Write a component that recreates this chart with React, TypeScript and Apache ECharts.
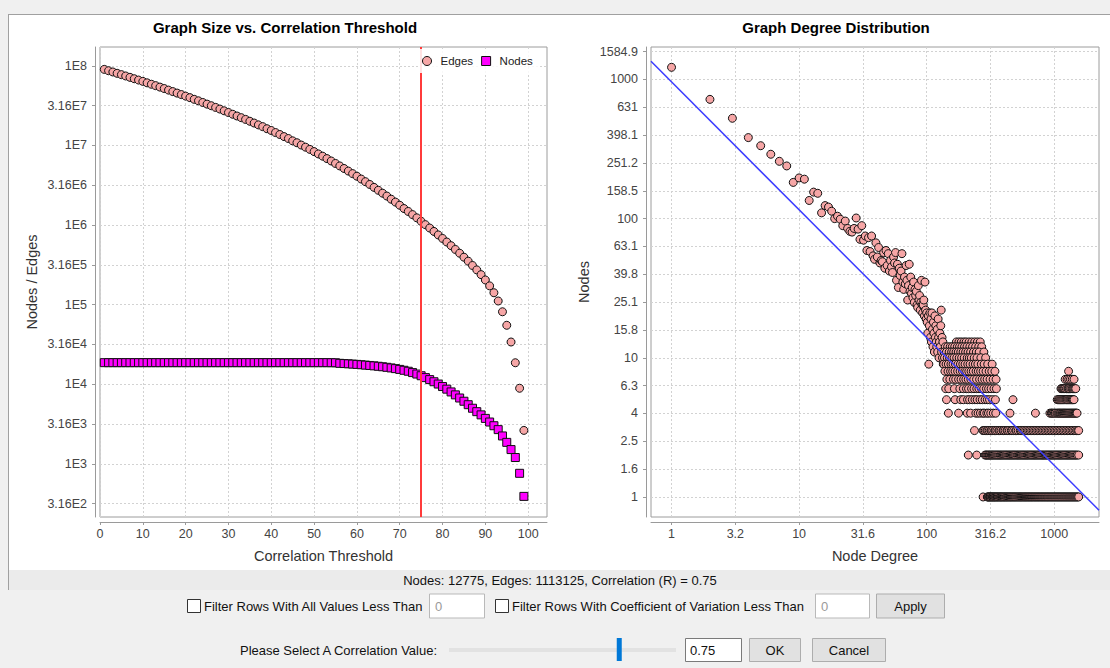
import React, { useEffect, useRef } from "react";
import * as echarts from "echarts";

const FONT = '"Liberation Sans", Arial, sans-serif';

// ---------- Left chart: graph size vs correlation threshold ----------
const thresholds = [
  1, 2, 3, 4, 5, 6, 7, 8, 9, 10, 11, 12, 13, 14, 15, 16, 17, 18, 19, 20,
  21, 22, 23, 24, 25, 26, 27, 28, 29, 30, 31, 32, 33, 34, 35, 36, 37, 38, 39, 40,
  41, 42, 43, 44, 45, 46, 47, 48, 49, 50, 51, 52, 53, 54, 55, 56, 57, 58, 59, 60,
  61, 62, 63, 64, 65, 66, 67, 68, 69, 70, 71, 72, 73, 74, 75, 76, 77, 78, 79, 80,
  81, 82, 83, 84, 85, 86, 87, 88, 89, 90, 91, 92, 93, 94, 95, 96, 97, 98, 99,
];
const edgeCounts = [
  90100000, 86700000, 83600000, 80400000, 77400000, 74500000, 71600000, 68800000, 66200000, 63700000,
  61100000, 58600000, 56300000, 54000000, 51800000, 49500000, 47400000, 45400000, 43500000, 41600000,
  39800000, 37900000, 36300000, 34600000, 33000000, 31500000, 30000000, 28600000, 27200000, 25900000,
  24600000, 23400000, 22300000, 21200000, 20100000, 19100000, 18100000, 17200000, 16200000, 15400000,
  14500000, 13700000, 12900000, 12200000, 11400000, 10800000, 10100000, 9500000, 8910000, 8360000,
  7810000, 7320000, 6830000, 6370000, 5930000, 5520000, 5130000, 4760000, 4420000, 4100000,
  3780000, 3500000, 3230000, 2970000, 2730000, 2510000, 2310000, 2110000, 1940000, 1770000,
  1610000, 1480000, 1350000, 1230000, 1113125, 1010000, 916000, 830000, 750000, 678000,
  611000, 550000, 493000, 442000, 394000, 351000, 310000, 273000, 238000, 204000,
  172000, 141000, 111000, 81300, 55000, 33900, 18600, 8900, 2630,
];
const nodeCounts = [
  18650, 18650, 18650, 18650, 18650, 18650, 18650, 18650, 18650, 18650,
  18650, 18650, 18650, 18650, 18650, 18650, 18650, 18650, 18650, 18650,
  18650, 18650, 18650, 18650, 18650, 18650, 18650, 18650, 18650, 18650,
  18650, 18650, 18650, 18650, 18650, 18650, 18650, 18650, 18650, 18650,
  18650, 18650, 18650, 18650, 18650, 18650, 18650, 18650, 18650, 18650,
  18650, 18650, 18650, 18630, 18590, 18300, 18180, 18050, 17900, 17740,
  17560, 17380, 17200, 17010, 16800, 16570, 16310, 16020, 15700, 15350,
  14960, 14550, 14000, 13420, 12775, 12110, 11430, 10740, 10050, 9350,
  8670, 8000, 7350, 6710, 6110, 5530, 4990, 4520, 4120, 3720,
  3350, 3010, 2690, 2240, 1860, 1510, 1200, 760, 390,
];
const selectedThreshold = 75;
const thresholdTicks = [0, 10, 20, 30, 40, 50, 60, 70, 80, 90, 100];
const sizeTickExponents = [2.5, 3, 3.5, 4, 4.5, 5, 5.5, 6, 6.5, 7, 7.5, 8];
const sizeTickLabels = ["3.16E2", "1E3", "3.16E3", "1E4", "3.16E4", "1E5", "3.16E5", "1E6", "3.16E6", "1E7", "3.16E7", "1E8"];

// ---------- Right chart: degree distribution ----------
// node count for degree 1, 2, 3, ... (index + 1)
const lowDegreeCounts = [
  1222, 719, 526, 382, 334, 290, 258, 239, 182, 196,
  192, 135, 155, 152, 110, 124, 121, 113, 100, 104,
  99, 89, 96, 85, 81, 80, 85, 101, 84, 71,
  89, 70, 75, 59, 73, 58, 75, 54, 51, 67,
  53, 62, 48, 50, 49, 57, 44, 59, 46, 56,
  42, 50, 45, 41, 53, 48, 57, 36, 47, 32,
  44, 39, 42, 56, 35, 31, 38, 34, 46, 36,
  26, 33, 47, 30, 38, 29, 32, 27, 35, 25,
  31, 28, 30, 24, 23, 33, 26, 28, 22, 25,
  36, 24, 21, 24, 26, 20, 35, 22, 19, 21,
  18, 15, 20, 9, 17, 21, 14, 19, 13, 21,
  16, 12, 18, 15, 11, 20, 14, 17, 13, 12,
  16, 11, 19, 14, 10, 13, 15, 12, 17, 22,
  11, 14, 10, 13, 9,
];
const count13Degrees = [171, 179, 187, 196, 204, 215, 226, 238, 250, 263];
const count12Degrees = [140, 146, 153, 159, 166, 174, 181, 189, 198, 207, 218, 229, 242, 256, 270];
const count11Degrees = [137, 143, 150, 157, 163, 170, 177, 185, 193, 202, 211, 221, 233, 245, 258, 281];
const count10Degrees = [138, 145, 151, 158, 164, 172, 180, 188, 197, 208, 216, 224, 236, 248, 266, 290];
const count9Degrees = [136, 142, 148, 155, 161, 168, 176, 184, 192, 200, 210, 219, 231, 241, 252, 268, 282, 301, 326];
const count8Degrees = [139, 147, 154, 160, 167, 175, 183, 191, 199, 206, 214, 223, 232, 244, 254, 265, 277, 292, 309, 324, 343, 1296];
const count7Degrees = [144, 152, 162, 169, 178, 186, 195, 203, 212, 222, 234, 246, 260, 272, 285, 298, 314, 332, 350, 1219, 1262, 1300, 1340, 1385, 1430];
const count6Degrees = [141, 149, 165, 182, 194, 205, 213, 225, 235, 247, 257, 269, 280, 294, 306, 320, 337, 352, 1130, 1150, 1172, 1193, 1214, 1246, 1278, 1296, 1315, 1346, 1378, 1401, 1424, 1450, 1475];
const count5Degrees = [143, 167, 185, 194, 209, 217, 228, 239, 249, 262, 273, 287, 299, 311, 328, 346, 475, 1056, 1078, 1098, 1120, 1142, 1164, 1186, 1210, 1233, 1252, 1270, 1296, 1322, 1345, 1368, 1387, 1405, 1430];
const count4Degrees = [148, 178, 208, 221, 243, 253, 264, 276, 283, 296, 305, 318, 333, 348, 450, 712, 925, 948, 962, 980, 1003, 1021, 1047, 1066, 1085, 1103, 1120, 1142, 1160, 1181, 1199, 1220, 1240, 1262, 1283, 1304, 1325, 1348, 1371, 1394, 1418, 1442, 1466, 1488, 1510];
const count3Degrees = [
  237, 276, 281, 288, 296, 301, 309, 318, 322, 330, 341, 346, 355, 367, 373, 383, 396, 401, 412, 426,
  432, 445, 460, 467, 481, 498, 506, 522, 541, 551, 566, 582, 598, 615, 631, 648, 666, 684, 703, 722,
  742, 762, 783, 804, 826, 849, 872, 896, 920, 945, 971, 998, 1025, 1053, 1082, 1111, 1142, 1173, 1205, 1238,
  1272, 1306, 1342, 1379, 1416, 1455, 1495, 1530, 1555,
];
const count2Degrees = [
  212, 247, 287, 292, 297, 303, 309, 314, 321, 327, 333, 340, 347, 354, 361, 368, 376, 383, 391, 399,
  407, 416, 424, 433, 442, 451, 460, 470, 479, 489, 499, 510, 520, 531, 542, 553, 565, 576, 588, 600,
  613, 625, 638, 652, 665, 679, 693, 707, 722, 737, 752, 768, 784, 800, 816, 833, 851, 868, 886, 905,
  923, 943, 962, 982, 1002, 1023, 1044, 1066, 1088, 1111, 1134, 1157, 1181, 1206, 1231, 1256, 1282, 1309, 1336, 1364,
  1392, 1421, 1451, 1481, 1512, 1555,
];
const count1Degrees = [
  277, 299, 302, 306, 311, 315, 319, 324, 328, 333, 338, 342, 347, 353, 358, 363, 369, 375, 380, 386,
  392, 399, 405, 411, 418, 424, 431, 438, 446, 453, 460, 468, 476, 484, 492, 500, 509, 518, 527, 536,
  545, 554, 564, 574, 584, 594, 604, 615, 626, 637, 648, 660, 671, 683, 696, 708, 721, 734, 747, 760,
  774, 788, 802, 816, 831, 846, 861, 877, 892, 908, 925, 942, 959, 976, 994, 1012, 1030, 1049, 1068, 1087,
  1107, 1127, 1147, 1168, 1189, 1210, 1232, 1254, 1277, 1300, 1323, 1347, 1371, 1396, 1421, 1447, 1473, 1500, 1527, 1555,
];
const fitLineDegrees = [0.69, 2244];
const fitLineNodes = [1349, 0.803];
const degreeTickExponents = [0, 0.5, 1, 1.5, 2, 2.5, 3];
const degreeTickLabels = ["1", "3.2", "10", "31.6", "100", "316.2", "1000"];
const nodeTickExponents = [0, 0.2, 0.4, 0.6, 0.8, 1, 1.2, 1.4, 1.6, 1.8, 2, 2.2, 2.4, 2.6, 2.8, 3, 3.2];
const nodeTickLabels = ["1", "1.6", "2.5", "4", "6.3", "10", "15.8", "25.1", "39.8", "63.1", "100", "158.5", "251.2", "398.1", "631", "1000", "1584.9"];

const labelFor = (exps: number[], labels: string[]) => (v: number) => {
  const i = exps.findIndex((e) => Math.abs(e - v) < 1e-6);
  return i >= 0 ? labels[i] : "";
};

const axisBase = (extra: any) => ({
  type: "value",
  nameLocation: "middle",
  nameTextStyle: { color: "#333", fontSize: 14.5, fontFamily: FONT },
  axisLine: { show: true, onZero: false, lineStyle: { color: "#9a9a9a", width: 1 } },
  splitLine: { show: true, lineStyle: { color: "#d2d2d2", type: [2, 2], width: 1 } },
  offset: 5,
  ...extra,
});

const tick = (values: number[]) => ({
  show: true,
  length: 3,
  inside: false,
  customValues: values,
  lineStyle: { color: "#9a9a9a" },
});

const label = (values: number[], formatter: any, margin: number) => ({
  show: true,
  customValues: values,
  formatter,
  margin,
  interval: 0,
  showMinLabel: true,
  showMaxLabel: true,
  color: "#444",
  fontSize: 12.5,
  fontFamily: FONT,
});

export default function App() {
  const ref = useRef<HTMLDivElement>(null);

  useEffect(() => {
    const chart = echarts.init(ref.current!, undefined, { renderer: "svg" });

    const degreePoints: number[][] = [
      ...lowDegreeCounts.map((c, i) => [i + 1, c]),
      ...count13Degrees.map((d) => [d, 13]),
      ...count12Degrees.map((d) => [d, 12]),
      ...count11Degrees.map((d) => [d, 11]),
      ...count10Degrees.map((d) => [d, 10]),
      ...count9Degrees.map((d) => [d, 9]),
      ...count8Degrees.map((d) => [d, 8]),
      ...count7Degrees.map((d) => [d, 7]),
      ...count6Degrees.map((d) => [d, 6]),
      ...count5Degrees.map((d) => [d, 5]),
      ...count4Degrees.map((d) => [d, 4]),
      ...count3Degrees.map((d) => [d, 3]),
      ...count2Degrees.map((d) => [d, 2]),
      ...count1Degrees.map((d) => [d, 1]),
    ];

    const selIdx = thresholds.indexOf(selectedThreshold);
    const statusText = `Nodes: ${nodeCounts[selIdx]}, Edges: ${edgeCounts[selIdx]}, Correlation (R) = ${(selectedThreshold / 100).toFixed(2)}`;

    const uiText = (text: string, x: number, y: number, opts: any = {}) => ({
      type: "text",
      x,
      y,
      silent: true,
      style: {
        text,
        fontSize: 13,
        fontFamily: FONT,
        fill: "#111",
        align: "left",
        verticalAlign: "middle",
        ...opts,
      },
    });
    const uiRect = (x: number, y: number, w: number, h: number, fill: string, stroke?: string) => ({
      type: "rect",
      silent: true,
      shape: { x, y, width: w, height: h },
      style: { fill, stroke: stroke || null, lineWidth: stroke ? 1 : 0 },
    });

    const sliderX = 449;
    const sliderW = 227;
    const thumbX = sliderX + (selectedThreshold / 100) * sliderW - 2.5;
    const row1 = 606;
    const row2 = 650;

    const option: any = {
      animation: false,
      backgroundColor: "#ffffff",
      grid: [
        { left: 100, top: 47, width: 447, height: 470, show: true, borderColor: "#9c9c9c", borderWidth: 1, backgroundColor: "#ffffff", outerBoundsMode: "none" },
        { left: 651, top: 47, width: 448, height: 470, show: true, borderColor: "#9c9c9c", borderWidth: 1, backgroundColor: "#ffffff", outerBoundsMode: "none" },
      ],
      xAxis: [
        axisBase({
          gridIndex: 0,
          min: 0,
          max: 104.4,
          name: "Correlation Threshold",
          nameGap: 26,
          axisTick: tick(thresholdTicks),
          axisLabel: label(thresholdTicks, (v: number) => String(v), 5),
        }),
        axisBase({
          gridIndex: 1,
          min: -0.161,
          max: 3.351,
          name: "Node Degree",
          nameGap: 26,
          axisTick: tick(degreeTickExponents),
          axisLabel: label(degreeTickExponents, labelFor(degreeTickExponents, degreeTickLabels), 5),
        }),
      ],
      yAxis: [
        axisBase({
          gridIndex: 0,
          min: 2.332,
          max: 8.236,
          name: "Nodes / Edges",
          nameGap: 56,
          axisTick: tick(sizeTickExponents),
          axisLabel: label(sizeTickExponents, labelFor(sizeTickExponents, sizeTickLabels), 8),
        }),
        axisBase({
          gridIndex: 1,
          min: -0.144,
          max: 3.233,
          name: "Nodes",
          nameGap: 55,
          axisTick: tick(nodeTickExponents),
          axisLabel: label(nodeTickExponents, labelFor(nodeTickExponents, nodeTickLabels), 8),
        }),
      ],
      legend: {
        left: 419,
        top: 49,
        z: 6,
        orient: "horizontal",
        itemWidth: 17,
        itemHeight: 9,
        itemGap: 8,
        padding: [6, 6, 6, 3],
        backgroundColor: "rgba(255,255,255,0.85)",
        selectedMode: false,
        textStyle: { color: "#222", fontSize: 11.5, fontFamily: FONT },
        itemStyle: { borderColor: "#111", borderWidth: 1 },
        data: [
          { name: "Edges", icon: "circle" },
          { name: "Nodes", icon: "path://M0,0H10V10H0Z" },
        ],
      },
      series: [
        {
          name: "Edges",
          type: "scatter",
          xAxisIndex: 0,
          yAxisIndex: 0,
          symbol: "circle",
          symbolSize: 8,
          itemStyle: { color: "#f6a6a6", borderColor: "#111", borderWidth: 1, opacity: 1 },
          data: thresholds.map((t, i) => [t, Math.log10(edgeCounts[i])]),
        },
        {
          name: "Nodes",
          type: "scatter",
          xAxisIndex: 0,
          yAxisIndex: 0,
          symbol: "rect",
          symbolSize: 8,
          itemStyle: { color: "#ff00ff", borderColor: "#111", borderWidth: 1, opacity: 1 },
          data: thresholds.map((t, i) => [t, Math.log10(nodeCounts[i])]),
          markLine: {
            silent: true,
            symbol: "none",
            z: 5,
            label: { show: false },
            lineStyle: { color: "#ff3b3b", width: 2, type: "solid", opacity: 1 },
            emphasis: { disabled: true },
            data: [{ xAxis: selectedThreshold }],
          },
        },
        {
          name: "Degree",
          type: "scatter",
          xAxisIndex: 1,
          yAxisIndex: 1,
          symbol: "circle",
          symbolSize: 8,
          itemStyle: { color: "#f6a6a6", borderColor: "#111", borderWidth: 1, opacity: 1 },
          data: degreePoints.map(([d, c]) => [Math.log10(d), Math.log10(c)]),
        },
        {
          name: "Fit",
          type: "line",
          xAxisIndex: 1,
          yAxisIndex: 1,
          z: 4,
          showSymbol: false,
          symbol: "none",
          lineStyle: { color: "#3c3cff", width: 1.5 },
          data: fitLineDegrees.map((d, i) => [Math.log10(d), Math.log10(fitLineNodes[i])]),
        },
      ],
      graphic: [
        uiRect(0, 0, 1110, 14, "#f0f0f0"),
        uiRect(0, 14, 8, 654, "#f0f0f0"),
        { type: "line", silent: true, shape: { x1: 8, y1: 14.5, x2: 1110, y2: 14.5 }, style: { stroke: "#a0a0a0", lineWidth: 1 } },
        uiRect(9, 570, 1101, 20, "#ebebeb"),
        uiRect(0, 590, 1110, 78, "#f0f0f0"),
        { type: "line", silent: true, shape: { x1: 8.5, y1: 14, x2: 8.5, y2: 590 }, style: { stroke: "#a0a0a0", lineWidth: 1 } },
        uiText("Graph Size vs. Correlation Threshold", 285, 27.5, { align: "center", fontWeight: "bold", fontSize: 15, fill: "#000" }),
        uiText("Graph Degree Distribution", 836, 27.5, { align: "center", fontWeight: "bold", fontSize: 15, fill: "#000" }),
        uiText(statusText, 560, 580, { align: "center" }),
        // row 1
        uiRect(187.5, row1 - 6.5, 13, 13, "#ffffff", "#333333"),
        uiText("Filter Rows With All Values Less Than", 204, row1),
        uiRect(429.5, row1 - 12, 55, 24, "#ffffff", "#b9b9b9"),
        uiText("0", 435, row1 + 0.5, { fill: "#9a9a9a" }),
        uiRect(495.5, row1 - 6.5, 13, 13, "#ffffff", "#333333"),
        uiText("Filter Rows With Coefficient of Variation Less Than", 512, row1),
        uiRect(815.5, row1 - 12, 54, 24, "#ffffff", "#b9b9b9"),
        uiText("0", 821, row1 + 0.5, { fill: "#9a9a9a" }),
        uiRect(876.5, row1 - 12, 68, 24, "#e1e1e1", "#adadad"),
        uiText("Apply", 910.5, row1 + 0.5, { align: "center" }),
        // row 2
        uiText("Please Select A Correlation Value:", 240, row2),
        uiRect(sliderX, row2 - 2, sliderW, 4, "#e2e2e2"),
        uiRect(thumbX, row2 - 12, 5, 23, "#0078d7"),
        uiRect(685.5, row2 - 11.5, 56, 23, "#ffffff", "#7a7a7a"),
        uiText((selectedThreshold / 100).toFixed(2), 690, row2),
        uiRect(749.5, row2 - 11.5, 51, 23, "#e1e1e1", "#adadad"),
        uiText("OK", 775, row2, { align: "center" }),
        uiRect(812.5, row2 - 11.5, 73, 23, "#e1e1e1", "#adadad"),
        uiText("Cancel", 849, row2, { align: "center" }),
      ],
    };

    chart.setOption(option);
    return () => chart.dispose();
  }, []);

  return (
    <div
      ref={ref}
      style={{ position: "absolute", left: 0, top: 0, width: 1110, height: 668 }}
    />
  );
}
